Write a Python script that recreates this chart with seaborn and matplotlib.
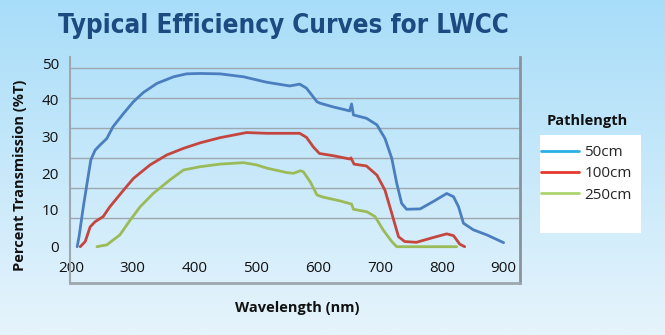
import numpy as np
import pandas as pd
import matplotlib
matplotlib.use("Agg")
import matplotlib.pyplot as plt
from matplotlib.lines import Line2D
from matplotlib.patches import Rectangle
import seaborn as sns

# Transmission curves (%T) versus wavelength (nm) for three pathlengths
wl_50 = [210, 213, 220, 226, 232, 239, 247, 258, 268, 285, 301, 317, 339, 366, 387,
         409, 441, 479, 517, 554, 570, 581, 598, 603, 624, 651, 654, 657, 678, 695,
         708, 719, 727, 735, 743, 765, 786, 808, 819, 827, 835, 851, 873, 900]
t_50 = [0.0, 2.7, 10.9, 17.3, 23.6, 26.3, 27.7, 29.5, 32.7, 36.3, 39.5, 42.0, 44.5, 46.3, 47.1,
        47.2, 47.1, 46.3, 44.8, 43.8, 44.3, 43.2, 39.5, 39.1, 38.1, 37.0, 38.9, 35.9, 35.0, 33.2,
        29.5, 24.1, 17.3, 11.8, 10.2, 10.3, 12.3, 14.5, 13.6, 10.9, 6.4, 4.6, 3.2, 1.1]

wl_100 = [215, 223, 231, 239, 252, 263, 285, 301, 328, 355, 382, 409, 441, 484, 517,
          570, 581, 592, 602, 624, 651, 653, 658, 678, 695, 708, 719, 730, 740, 759,
          786, 808, 819, 829, 837]
t_100 = [0.0, 1.4, 5.4, 6.8, 8.2, 10.9, 15.4, 18.6, 22.3, 25.0, 26.8, 28.3, 29.7, 31.1, 30.9,
         30.9, 29.8, 27.2, 25.4, 24.8, 23.9, 24.2, 22.5, 22.0, 19.5, 15.4, 9.1, 2.7, 1.4, 1.2,
         2.5, 3.5, 3.0, 0.7, 0.0]

wl_250 = [242, 258, 279, 296, 312, 333, 360, 382, 409, 441, 479, 500, 517, 549, 560,
          571, 576, 587, 598, 608, 635, 654, 657, 679, 692, 705, 719, 727, 786, 824]
t_250 = [0.0, 0.5, 3.2, 7.3, 10.9, 14.5, 18.2, 20.9, 21.8, 22.5, 22.9, 22.3, 21.4, 20.2, 20.0,
         20.7, 20.4, 17.7, 14.1, 13.5, 12.5, 11.6, 10.2, 9.5, 8.2, 4.6, 1.4, 0.0, 0.0, 0.0]

pathlengths = ["50cm", "100cm", "250cm"]
line_colors = ["#4a7ebf", "#c4463f", "#9bbb59"]
legend_colors = ["#2bb0e6", "#e33a2b", "#acd46c"]

x_ticks = [200, 300, 400, 500, 600, 700, 800, 900]
y_ticks = [0, 10, 20, 30, 40, 50]
grid_levels = [7.74, 15.91, 24.09, 32.26, 40.44, 48.61]

df = pd.concat([
    pd.DataFrame({"Wavelength": wl_50, "T": t_50, "Pathlength": "50cm"}),
    pd.DataFrame({"Wavelength": wl_100, "T": t_100, "Pathlength": "100cm"}),
    pd.DataFrame({"Wavelength": wl_250, "T": t_250, "Pathlength": "250cm"}),
], ignore_index=True)

sns.set_theme(style="white")
plt.rcParams["font.family"] = ["Open Sans", "DejaVu Sans"]

W, H = 665, 335
fig = plt.figure(figsize=(W / 100, H / 100), dpi=100)

# soft vertical background gradient
bg = fig.add_axes([0, 0, 1, 1], zorder=-10)
grad = np.linspace(0, 1, 256).reshape(-1, 1)
top_c = np.array([168, 221, 249]) / 255
bot_c = np.array([230, 244, 252]) / 255
img = top_c[None, None, :] * (1 - grad[:, :, None]) + bot_c[None, None, :] * grad[:, :, None]
bg.imshow(img, aspect="auto", extent=[0, 1, 0, 1])
bg.set_axis_off()

ax = fig.add_axes([70 / W, 1 - 282.7 / H, 450 / W, (282.7 - 57) / H])
ax.set_facecolor("none")

sns.lineplot(data=df, x="Wavelength", y="T", hue="Pathlength", hue_order=pathlengths,
             palette=line_colors, estimator=None, sort=False, linewidth=2.0,
             legend=False, ax=ax, zorder=3)

ax.set_xlim(198.4, 926.5)
ax.set_ylim(-9.81, 51.69)
ax.set_xticks(x_ticks)
ax.set_xticklabels([str(v) for v in x_ticks])
ax.set_yticks(y_ticks)
ax.set_yticklabels([str(v) for v in y_ticks])
ax.set_yticks(grid_levels, minor=True)
ax.grid(False)
ax.grid(True, which="minor", axis="y", color="#9fa7ae", linewidth=1.0)
ax.tick_params(axis="both", which="both", length=0)
ax.tick_params(axis="x", pad=-15.5, labelsize=11, labelcolor="#111111")
ax.tick_params(axis="y", pad=8, labelsize=11, labelcolor="#111111")

for side in ["left", "bottom", "right"]:
    ax.spines[side].set_visible(True)
ax.spines["top"].set_visible(False)
ax.spines["left"].set_color("#9ea6ae")
ax.spines["left"].set_linewidth(1.5)
ax.spines["bottom"].set_color("#9ea6ae")
ax.spines["bottom"].set_linewidth(2.0)
ax.spines["right"].set_color("#8a939c")
ax.spines["right"].set_linewidth(2.0)

ax.set_xlabel("")
ax.set_ylabel("")
fig.text(297 / W, 1 - 308 / H, "Wavelength (nm)", ha="center", va="center",
         fontsize=10.5, fontweight="bold", color="#111111")
fig.text(20 / W, 1 - 175 / H, "Percent Transmission (%T)", ha="center", va="center",
         rotation=90, fontsize=10.5, fontweight="bold", color="#111111")

fig.text(58 / W, 1 - 26 / H, "Typical Efficiency Curves for LWCC", ha="left", va="center",
         fontsize=18.6, fontweight="bold", fontstretch="condensed", color="#1b4b80",
         family="DejaVu Sans")

# legend panel
fig.patches.append(Rectangle((540 / W, 1 - 232.7 / H), 101 / W, 97.7 / H,
                             transform=fig.transFigure, facecolor="white",
                             edgecolor="none", zorder=1))
fig.text(587 / W, 1 - 120.7 / H, "Pathlength", ha="center", va="center",
         fontsize=10.5, fontweight="bold", color="#111111")
handles = [Line2D([], [], color=c, linewidth=2.0) for c in legend_colors]
leg = fig.legend(handles, pathlengths, loc="upper left",
                 bbox_to_anchor=(541 / W, 1 - 145 / H), frameon=False,
                 fontsize=11, handlelength=2.5, handletextpad=0.35,
                 labelspacing=0.42, borderaxespad=0, borderpad=0)
leg.set_zorder(5)

fig.savefig("out.png", dpi=100)
